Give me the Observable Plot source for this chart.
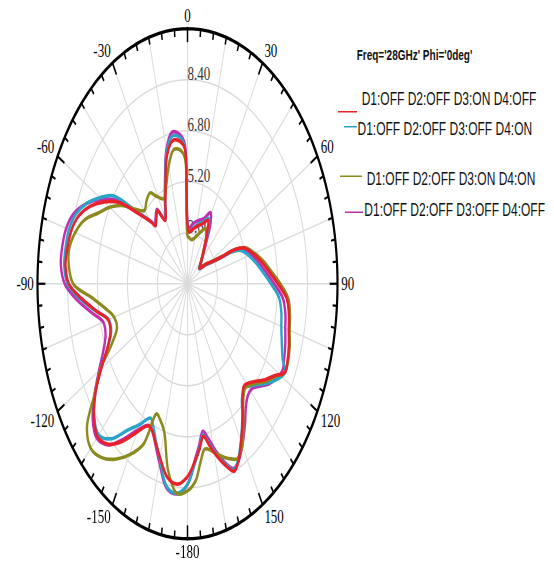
<!DOCTYPE html>
<html>
<head>
<meta charset="utf-8">
<script src="https://cdn.jsdelivr.net/npm/d3@7"></script>
<script src="https://cdn.jsdelivr.net/npm/@observablehq/plot@0.6"></script>
<style>
html, body { margin:0; padding:0; background:#fff; }
#outer { position:relative; width:554px; height:564px; overflow:visible; }
#wrap { position:absolute; left:0; top:0; width:554px; height:376px; transform:scaleY(1.5); transform-origin:0 0; }
#wrap svg { position:absolute; left:0; top:0; }
.lg { position:absolute; font-family:"Liberation Sans", Arial, sans-serif; white-space:nowrap; color:#111; }
.lg-title { font-size:10px; font-weight:bold; line-height:12px; }
.lg-text { font-size:12px; line-height:14px; }
.lg-line { position:absolute; height:1.2px; }
</style>
</head>
<body>
<div id="outer"><div id="wrap"></div></div>
<script>
// ---- data (angle in degrees, gain values) ----
const angles = [-180,-175,-170,-165,-161,-158,-155,-150,-145,-140,-135,-130,-125,-120,-115,-110,-105,-100,
  -95,-90,-85,-80,-75,-70,-65,-60,-55,-50,-45,
  -43,-40,-35,-31,-25,-20,-15,-10,-5,-2,-1,0,
  3,8,13,18,23,29,33,38,43,48,53,58,62,65,67,70,75,80,85,90,
  95,100,105,110,115,118,122,126,130,134,137,141,145,150,154,157,160,164,167,170,173,176];

const d3onD4off = [8.05,8.31,8.17,7.65,7.25,6.99,6.92,7.37,8.03,8.57,8.78,8.51,8.00,7.31,6.70,6.37,6.38,6.93,
  7.62,8.33,8.53,8.50,8.42,8.19,7.74,7.14,6.44,5.42,4.74,
  4.49,4.61,4.80,4.32,4.79,5.43,6.19,6.56,6.48,6.25,5.00,3.85,
  3.62,3.71,3.81,3.92,4.05,4.27,3.93,3.48,3.15,2.93,2.80,3.16,3.48,3.97,4.75,5.25,5.63,6.00,6.37,6.82,
  7.31,7.49,7.59,7.75,7.87,7.90,7.45,7.12,6.76,6.49,6.40,6.66,7.13,7.72,8.20,8.39,8.10,7.61,7.21,6.86,7.24,7.59];

const d3offD4on = [8.30,8.60,8.45,7.70,7.20,6.85,6.65,7.10,7.62,8.35,8.70,8.50,8.00,7.35,6.68,6.33,6.35,6.95,
  7.70,8.40,8.60,8.60,8.55,8.35,7.95,7.40,6.80,5.50,4.78,
  4.50,4.60,4.78,4.32,4.82,5.48,6.28,6.70,6.60,6.30,5.00,3.85,
  3.62,3.72,3.85,3.98,4.10,4.35,4.00,3.50,3.15,2.92,2.78,3.10,3.42,3.85,4.55,5.05,5.40,5.72,6.05,6.45,
  6.90,7.08,7.18,7.35,7.60,7.90,7.65,7.30,6.92,6.62,6.45,6.62,7.10,7.70,8.15,8.35,8.05,7.55,7.15,6.82,7.20,7.65];

const d3onD4on = [8.50,8.60,7.95,6.80,6.50,6.40,7.55,8.20,8.72,9.12,9.30,9.00,8.05,7.35,6.45,6.00,6.05,6.45,
  7.10,8.10,8.35,8.40,8.20,7.85,7.25,6.80,6.28,5.63,5.25,
  5.28,5.40,5.48,5.20,4.95,5.30,5.85,6.27,6.20,5.95,4.80,3.50,
  3.45,3.40,3.45,3.58,3.75,3.98,3.85,3.45,3.15,2.95,2.85,3.18,3.50,4.00,4.75,5.30,5.70,6.10,6.48,6.95,
  7.40,7.55,7.64,7.80,7.90,7.90,7.50,7.20,6.85,6.58,6.50,6.72,7.20,7.85,8.10,7.97,7.80,7.55,7.35,7.27,7.65,8.20];

const d3offD4off = [8.30,8.62,8.50,7.80,7.30,7.00,6.90,7.30,7.95,8.60,8.85,8.60,8.05,7.45,6.95,6.65,6.65,7.20,
  7.90,8.55,8.78,8.78,8.70,8.45,7.95,7.30,6.55,5.50,4.78,
  4.55,4.65,4.85,4.35,4.85,5.50,6.35,6.82,6.70,6.40,5.10,3.90,
  3.75,3.88,4.00,4.10,4.22,4.55,4.25,3.60,3.20,2.95,2.80,3.12,3.45,3.90,4.60,5.15,5.50,5.85,6.20,6.62,
  7.10,7.30,7.40,7.55,7.68,7.75,7.60,7.35,7.00,6.75,6.75,6.95,7.35,7.85,8.20,8.30,8.00,7.45,7.00,6.70,7.10,7.55];

const seriesNames = ["D1:OFF D2:OFF D3:ON D4:OFF", "D1:OFF D2:OFF D3:OFF D4:ON",
                     "D1:OFF D2:OFF D3:ON D4:ON", "D1:OFF D2:OFF D3:OFF D4:OFF"];
const seriesValues = [d3onD4off, d3offD4on, d3onD4on, d3offD4off];
const seriesColors = ["#e8212b", "#2ba4c8", "#8a8a1e", "#c02fb0"];

const ringValues = [3.6, 5.2, 6.8, 8.4];
const ringLabels = ["3.60", "5.20", "6.80", "8.40"];
const rMin = 2, rMax = 10;
const angleTicks = [0, 30, 60, 90, 120, 150, 180, -150, -120, -90, -60, -30];
const angleTickLabels = ["0", "30", "60", "90", "120", "150", "-180", "-150", "-120", "-90", "-60", "-30"];
const legendTitle = "Freq='28GHz' Phi='0deg'";

// ---- layout ----
const W = 554, H = 376;
const layout = {
  title: {left: 356.7, top: 30.7},
  items: [
    {textLeft: 361.7, textTop: 58.5, x1: 338, x2: 356.7, y: 74.5},
    {textLeft: 357.5, textTop: 78.5, x1: 344, x2: 356.5, y: 84.5},
    {textLeft: 366.7, textTop: 111.9, x1: 340, x2: 361.7, y: 117.1},
    {textLeft: 364.3, textTop: 133, x1: 345, x2: 363.3, y: 141.1}
  ]
};
const drawOrder = [3, 1, 2, 0];

const rad = d3.scaleLinear().domain([rMin, rMax]).range([0, rMax - rMin]);
const R = rad(rMax);
function pol(deg, r) {
  const a = deg * Math.PI / 180, d = rad(r);
  return [d * Math.sin(a), d * Math.cos(a)];
}

const full = d3.range(0, 361, 1);
const ringData = ringValues.flatMap(v => full.map(t => { const [x, y] = pol(t, v); return {ring: v, x, y}; }));
const outerData = full.map(t => { const [x, y] = pol(t, rMax); return {x, y}; });
const spokeData = d3.range(0, 360, 15).map(t => {
  const [x1, y1] = pol(t, rMin); const [x2, y2] = pol(t, rMax); return {x1, y1, x2, y2};
});
const tickData = d3.range(0, 360, 5).map(t => {
  const [x1, y1] = pol(t, rMax);
  const [x2, y2] = pol(t, rMax - (t % 30 === 0 ? 0.42 : 0.23));
  return {x1, y1, x2, y2};
});

const curveMarks = drawOrder.map(i => {
  const pts = seriesValues[i].map((v, j) => { const [x, y] = pol(angles[j], v); return {x, y}; });
  return Plot.line(pts, {x: "x", y: "y", curve: "catmull-rom-closed", stroke: seriesColors[i],
    strokeWidth: 2.4, strokeLinejoin: "round"});
});

const labelData = angleTicks.map((t, i) => {
  const [x, y] = pol(t, rMax + 0.2);
  const s = Math.sin(t * Math.PI / 180), c = Math.cos(t * Math.PI / 180);
  return {x, y, text: angleTickLabels[i],
    ta: s > 0.01 ? "start" : s < -0.01 ? "end" : "middle",
    dy: c > 0.01 ? -4.5 : c < -0.01 ? 4.5 : 0};
});
const labelMarks = d3.groups(labelData, d => d.ta + "|" + d.dy).map(([k, arr]) =>
  Plot.text(arr, {x: "x", y: "y", text: "text", textAnchor: arr[0].ta, dy: arr[0].dy,
    fontFamily: "Liberation Serif", fontSize: 13, fill: "#000"}));

const ringLabelData = ringValues.map((v, i) => ({y: rad(v), text: ringLabels[i]}));

const chart = Plot.plot({
  width: W, height: H,
  marginLeft: 37, marginRight: 217, marginTop: 18.67, marginBottom: 17.33,
  x: {domain: [-R, R], axis: null},
  y: {domain: [-R, R], axis: null},
  style: {background: "white", fontFamily: "Liberation Serif", overflow: "visible"},
  marks: [
    Plot.line(ringData, {x: "x", y: "y", z: "ring", stroke: "#d9d9d9", strokeWidth: 1}),
    Plot.link(spokeData, {x1: "x1", y1: "y1", x2: "x2", y2: "y2", stroke: "#dcdcdc", strokeWidth: 1}),
    Plot.text(ringLabelData, {x: () => 0, y: "y", text: "text", textAnchor: "start", dx: 0, dy: -4,
      fontFamily: "Liberation Serif", fontSize: 13, fill: "#333"}),
    ...curveMarks,
    Plot.line(outerData, {x: "x", y: "y", stroke: "#000", strokeWidth: 2.2}),
    Plot.link(tickData, {x1: "x1", y1: "y1", x2: "x2", y2: "y2", stroke: "#000", strokeWidth: 1.5}),
    ...labelMarks
  ]
});

const wrap = document.getElementById("wrap");
wrap.appendChild(chart);

const t = document.createElement("div");
t.className = "lg lg-title";
t.style.left = layout.title.left + "px";
t.style.top = layout.title.top + "px";
t.textContent = legendTitle;
wrap.appendChild(t);

seriesNames.forEach((name, i) => {
  const it = layout.items[i];
  const ln = document.createElement("div");
  ln.className = "lg-line";
  ln.style.left = it.x1 + "px";
  ln.style.width = (it.x2 - it.x1) + "px";
  ln.style.top = (it.y - 0.6) + "px";
  ln.style.background = seriesColors[i];
  wrap.appendChild(ln);
  const tx = document.createElement("div");
  tx.className = "lg lg-text";
  tx.style.left = it.textLeft + "px";
  tx.style.top = it.textTop + "px";
  tx.textContent = name;
  wrap.appendChild(tx);
});
</script>
</body>
</html>
